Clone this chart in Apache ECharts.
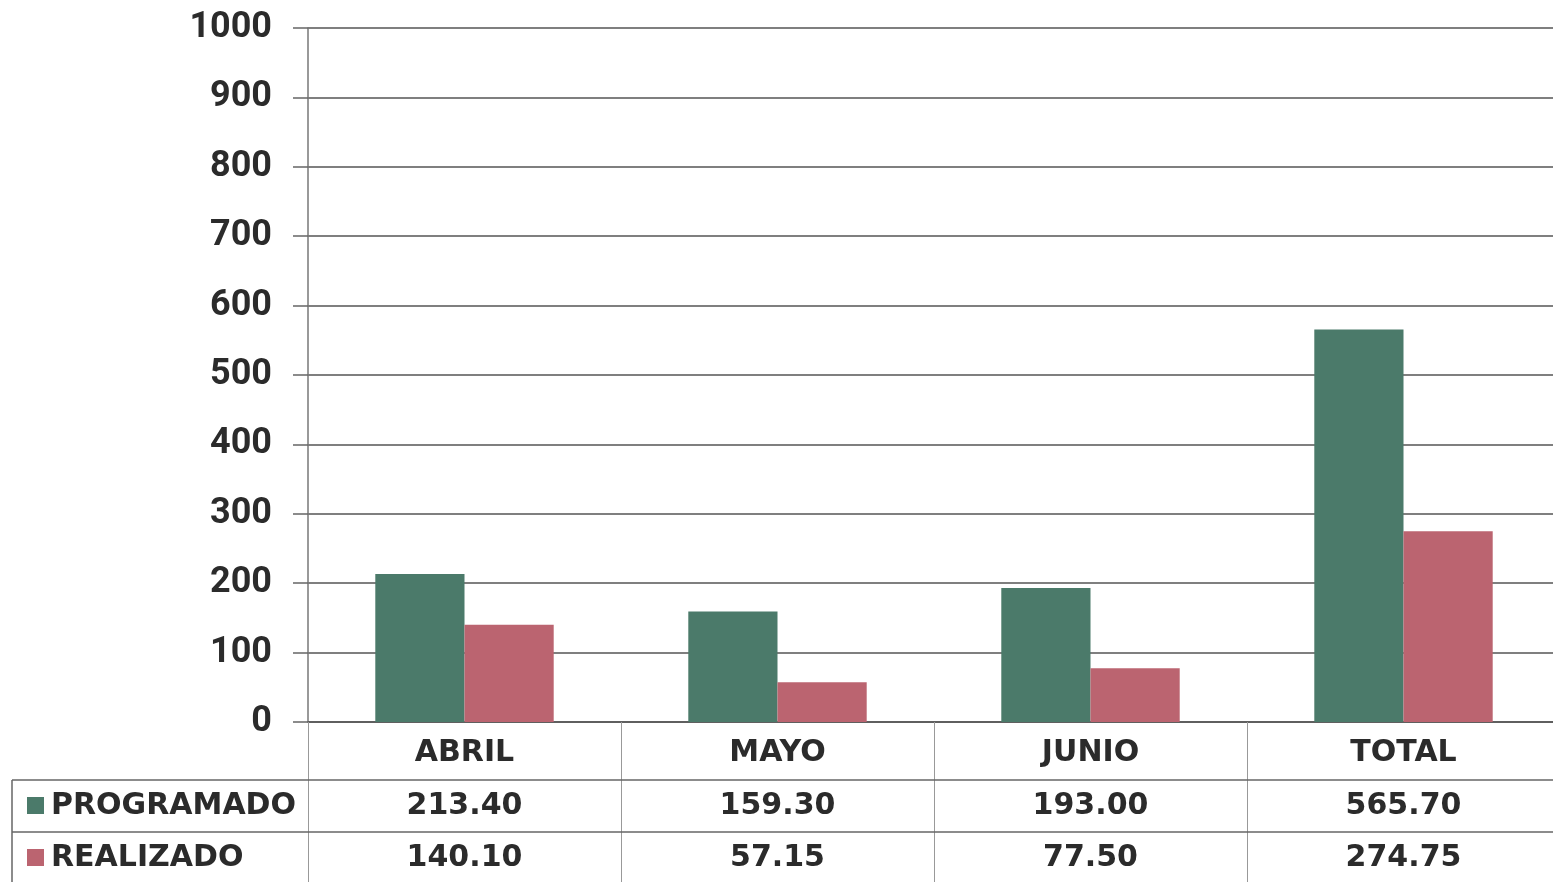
<!DOCTYPE html>
<html>
<head>
<meta charset="utf-8">
<script src="https://cdn.jsdelivr.net/npm/echarts@6/dist/echarts.min.js"></script>
<style>
html,body{margin:0;padding:0;background:#fff;}
#chart{width:1553px;height:882px;}
</style>
</head>
<body>
<div id="chart"></div>
<script>
const categories = ['ABRIL', 'MAYO', 'JUNIO', 'TOTAL'];
const programado = [213.40, 159.30, 193.00, 565.70];
const realizado = [140.10, 57.15, 77.50, 274.75];
const seriesNames = ['PROGRAMADO', 'REALIZADO'];
const seriesColors = ['#4b7a6a', '#bb6470'];

const chart = echarts.init(document.getElementById('chart'));
const TXT = '#2b2b2b';
const TFONT = '"DejaVu Sans", sans-serif';

chart.setOption({
  animation: false,
  backgroundColor: '#fff',
  grid: { left: 308, width: 1252, top: 28, bottom: 160, outerBoundsMode: 'none', containLabel: false },
  xAxis: {
    type: 'category',
    data: categories,
    axisLine: { show: true, lineStyle: { color: '#555', width: 1.5 } },
    axisTick: { show: true, length: 160, lineStyle: { color: '#999', width: 1 } },
    axisLabel: { margin: 16, fontSize: 30, fontWeight: 'bold', color: TXT, fontFamily: TFONT }
  },
  yAxis: {
    type: 'value',
    min: 0, max: 1000, interval: 100,
    axisLine: { show: true, lineStyle: { color: '#777', width: 1.5 } },
    axisTick: { show: true, length: 15, lineStyle: { color: '#666', width: 1.5 } },
    axisLabel: { margin: 36, fontSize: 36, fontWeight: 'bold', color: TXT, fontFamily: 'Roboto, sans-serif',
      formatter: function (v) { return String(v); } },
    splitLine: { show: true, lineStyle: { color: '#555', width: 1.5 } }
  },
  series: [
    { name: seriesNames[0], type: 'bar', data: programado, itemStyle: { color: seriesColors[0] },
      barGap: '0%', barCategoryGap: '43%' },
    { name: seriesNames[1], type: 'bar', data: realizado, itemStyle: { color: seriesColors[1] },
      barGap: '0%', barCategoryGap: '43%' }
  ]
});

// Data table below the axis
const rows = [programado, realizado];
const rowTop = [780, 832];
const rowH = 52;
const graphics = [];
rowTop.forEach(function (y) {
  graphics.push({ type: 'line', shape: { x1: 12, y1: y, x2: 1553, y2: y },
    style: { stroke: '#666', lineWidth: 1.5 }, z: 10 });
});
graphics.push({ type: 'line', shape: { x1: 12, y1: 780, x2: 12, y2: 882 },
  style: { stroke: '#666', lineWidth: 1.5 }, z: 10 });
rows.forEach(function (vals, r) {
  const cy = rowTop[r] + rowH / 2;
  graphics.push({ type: 'rect', shape: { x: 27, y: cy - 9, width: 17, height: 17 },
    style: { fill: seriesColors[r] }, z: 10 });
  graphics.push({ type: 'text', x: 51, y: cy,
    style: { text: seriesNames[r], fill: TXT, font: 'bold 30px ' + TFONT, textVerticalAlign: 'middle', textAlign: 'left' }, z: 10 });
  vals.forEach(function (v, i) {
    const px = chart.convertToPixel({ xAxisIndex: 0 }, i);
    graphics.push({ type: 'text', x: px, y: cy,
      style: { text: v.toFixed(2), fill: TXT, font: 'bold 30px ' + TFONT, textAlign: 'center', textVerticalAlign: 'middle' }, z: 10 });
  });
});
chart.setOption({ graphic: graphics });
</script>
</body>
</html>
